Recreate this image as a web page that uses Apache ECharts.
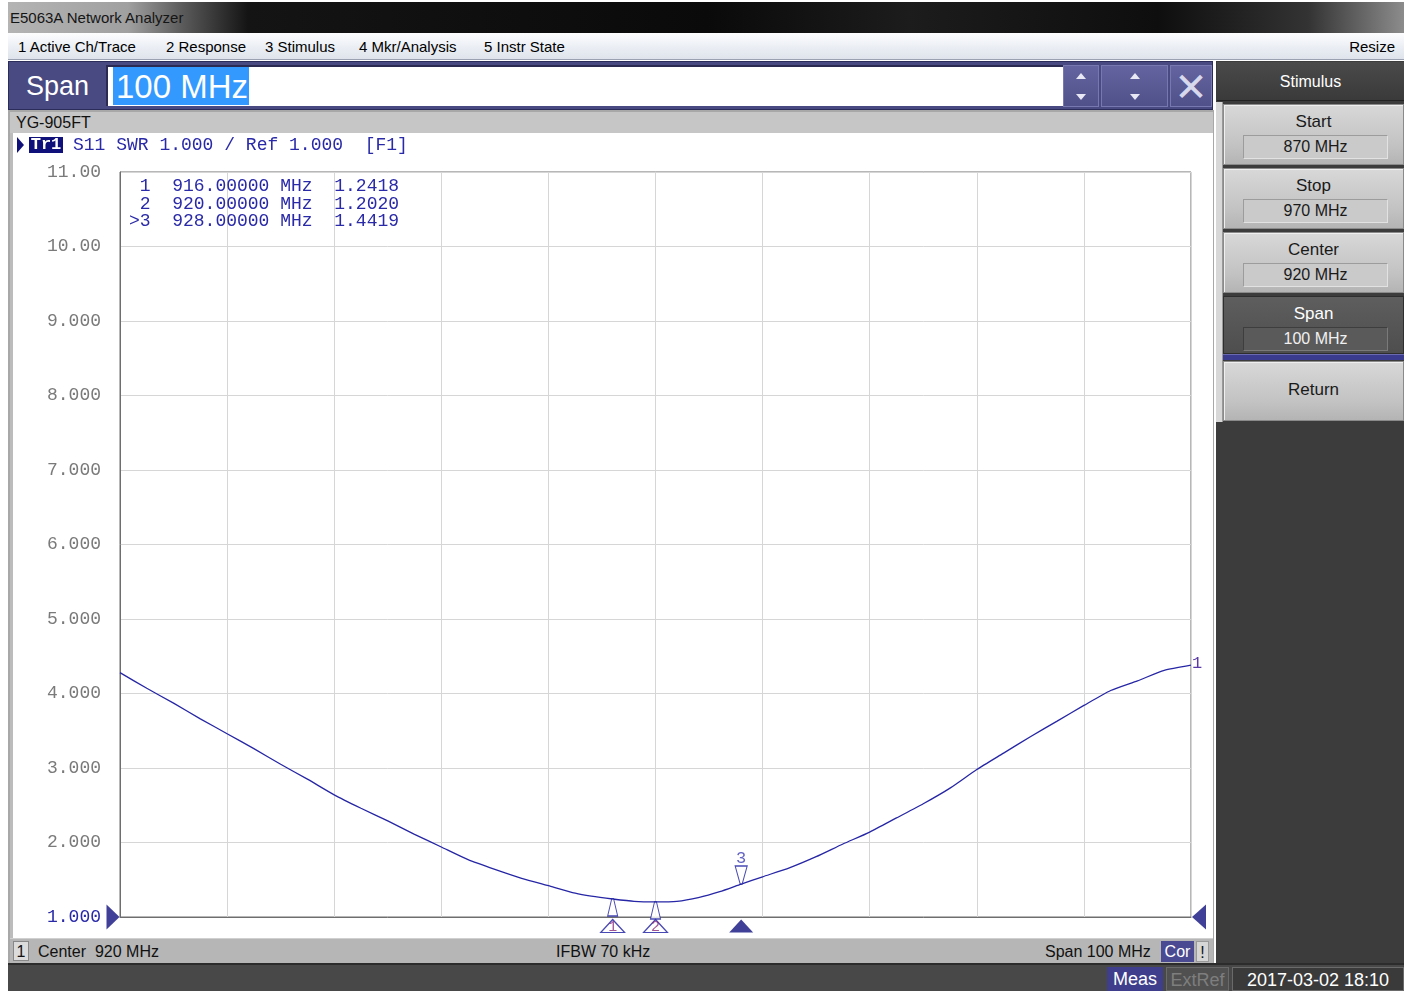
<!DOCTYPE html>
<html>
<head>
<meta charset="utf-8">
<title>E5063A Network Analyzer</title>
<script src="https://cdn.jsdelivr.net/npm/echarts@6/dist/echarts.min.js"></script>
<style>
  html, body { margin: 0; padding: 0; width: 1416px; height: 991px; overflow: hidden; background: #fff;
    font-family: "Liberation Sans", Arial, sans-serif; }
  .a { position: absolute; box-sizing: border-box; }
  #titlebar { left: 8px; top: 2px; width: 1396px; height: 31px;
    background: linear-gradient(90deg, #b4b4b4 0px, #a0a0a0 120px, #5a5a5a 175px, #141414 240px, #0a0a0a 700px,
      #1c1c1c 900px, #0e0e0e 1150px, #333 1300px, #8c8c8c 1396px); }
  #titlebar span { position: absolute; left: 2px; top: 7px; font-size: 15px; color: #151515; }
  #menubar { left: 8px; top: 33px; width: 1396px; height: 27px;
    background: linear-gradient(#fdfdfe, #e9edf3 60%, #dfe4ec); border-bottom: 1px solid #9aa2b2; }
  #menubar span { position: absolute; top: 5px; font-size: 15px; color: #000; }
  #spanbar { left: 8px; top: 61px; width: 1205px; height: 49px; background: #4a4a82;
    border: 1px solid #2c2c5a; }
  #spanlbl { left: 26px; top: 71px; font-size: 27px; color: #fff; }
  #entry { left: 106px; top: 65px; width: 957px; height: 41px; background: #fff;
    border-top: 2px solid #2a2a52; border-left: 2px solid #2a2a52; }
  #entrysel { left: 113px; top: 67px; width: 136px; height: 38px; background: #3399ff; color: #fff;
    font-size: 33px; line-height: 40px; padding-left: 3px; white-space: nowrap; overflow: hidden; }
  .btn { background: linear-gradient(#6464a0, #50508a); border: 1px solid #7878b0; }
  .arrow { position: absolute; width: 0; height: 0; border-left: 5px solid transparent; border-right: 5px solid transparent; }
  .up { border-bottom: 6px solid #e8e8f4; }
  .dn { border-top: 6px solid #e8e8f4; }
  #xbtn { left: 1170px; top: 65px; width: 42px; height: 42px; color: #d8d8ec; font-size: 40px; line-height: 42px;
    text-align: center; font-family: "DejaVu Sans", sans-serif; }

  #panel { left: 1216px; top: 61px; width: 188px; height: 902px; background: #3c3c3c; }
  #panelhead { left: 1217px; top: 62px; width: 187px; height: 39px; background: linear-gradient(#4a4a4a, #3a3a3a);
    color: #fff; font-size: 16px; text-align: center; line-height: 39px; border-bottom: 1px solid #222; }
  .sk { left: 1223px; width: 181px; background: linear-gradient(#d8d8d8, #c2c2c2 70%, #b4b4b4);
    border: 1px solid #8a8a8a; box-shadow: inset 1px 1px 0 #efefef; text-align: center; color: #1a1a1a; font-size: 17px; }
  .sk .t { position: absolute; left: 0; right: 0; top: 7px; }
  .sk .v { position: absolute; left: 19px; width: 143px; top: 30px; height: 22px; background: #cacaca;
    border-top: 1px solid #9c9c9c; border-left: 1px solid #9c9c9c; border-bottom: 1px solid #e2e2e2;
    border-right: 1px solid #e2e2e2; font-size: 16px; line-height: 21px; }
  .sk.on { background: linear-gradient(#5e5e5e, #4e4e4e); color: #fff; border-color: #2e2e2e; box-shadow: none; }
  .sk.on .v { background: #5a5a5a; border-color: #3e3e3e #7a7a7a #7a7a7a #3e3e3e; color: #f0f0f0; }
  #skstrip { left: 1216px; top: 102px; width: 7px; height: 320px; background: #d8d8d8; border-right: 1px solid #999; }

  #chwin { left: 8px; top: 110px; width: 1206px; height: 853px; background: #a8a8a8; }
  #chtitle { left: 10px; top: 112px; width: 1203px; height: 21px; background: #c6c6c6; font-size: 16px; color: #111;
    line-height: 21px; padding-left: 6px; }
  #chbody { left: 10px; top: 133px; width: 1203px; height: 805px; background: #fff; border-left: 3px solid #bcbcbc; }
  #chstat { left: 10px; top: 938px; width: 1203px; height: 25px; background: #b6b6b6; border-top: 1px solid #d0d0d0;
    font-size: 16px; color: #111; }
  #chstat span { position: absolute; top: 4px; }
  #chno { left: 3px !important; top: 2px !important; width: 16px; height: 20px; background: #dcdcdc; border: 1px solid #888;
    text-align: center; line-height: 19px; box-sizing: border-box; }
  #cor { left: 1151px !important; top: 2px !important; width: 33px; height: 21px; background: #4a4a92; color: #fff;
    text-align: center; line-height: 21px; }
  #bang { left: 1186px !important; top: 2px !important; width: 13px; height: 21px; background: #d6d6d6; color: #111;
    text-align: center; line-height: 21px; border: 1px solid #999; box-sizing: border-box; }

  #status { left: 8px; top: 963px; width: 1396px; height: 28px; background: #484848; border-top: 2px solid #2c2c2c; }
  #meas { left: 1107px; top: 967px; width: 56px; height: 24px; background: #3e3e8c; color: #fff; font-size: 18px;
    text-align: center; line-height: 24px; }
  #extref { left: 1166px; top: 967px; width: 63px; height: 24px; background: #505050; color: #7e7e7e; font-size: 18px;
    text-align: center; line-height: 24px; border: 1px solid #6a6a6a; }
  #clock { left: 1232px; top: 967px; width: 172px; height: 24px; background: #3a3a3a; color: #fff; font-size: 18px;
    text-align: center; line-height: 24px; border: 1px solid #6a6a6a; }

  .mono { font-family: "Liberation Mono", "DejaVu Sans Mono", monospace; font-size: 18px; white-space: pre; }
  #trarrow { left: 17px; top: 137px; width: 0; height: 0; border-top: 8px solid transparent; border-bottom: 8px solid transparent;
    border-left: 7px solid #10107a; }
  #trtag { left: 29px; top: 137px; width: 34px; height: 16px; background: #10107a; color: #fff; line-height: 16px;
    font-weight: bold; font-size: 17px; text-align: center; }
  #trtext { left: 73px; top: 135px; line-height: 20px; color: #2a2aa8; }
  #mktable { left: 129px; top: 178px; line-height: 17.5px; color: #2a2aa8; }
  #chart { left: 0; top: 0; width: 1416px; height: 991px; z-index: 5; }
  .top { z-index: 6; }
</style>
</head>
<body>
<div class="a" id="titlebar"><span>E5063A Network Analyzer</span></div>
<div class="a" id="menubar">
  <span style="left:10px">1 Active Ch/Trace</span>
  <span style="left:158px">2 Response</span>
  <span style="left:257px">3 Stimulus</span>
  <span style="left:351px">4 Mkr/Analysis</span>
  <span style="left:476px">5 Instr State</span>
  <span style="right:9px">Resize</span>
</div>
<div class="a" id="spanbar"></div>
<div class="a" id="spanlbl">Span</div>
<div class="a" id="entry"></div>
<div class="a" id="entrysel">100 MHz</div>
<div class="a btn" style="left:1063px;top:65px;width:36px;height:42px">
  <div class="arrow up" style="left:12px;top:7px"></div><div class="arrow dn" style="left:12px;top:28px"></div>
</div>
<div class="a btn" style="left:1101px;top:65px;width:67px;height:42px">
  <div class="arrow up" style="left:28px;top:7px"></div><div class="arrow dn" style="left:28px;top:28px"></div>
</div>
<div class="a btn" id="xbtn">✕</div>

<div class="a" id="panel"></div>
<div class="a" id="panelhead">Stimulus</div>
<div class="a" id="skstrip"></div>
<div class="a sk" style="top:104px;height:61px"><div class="t">Start</div><div class="v">870 MHz</div></div>
<div class="a sk" style="top:168px;height:61px"><div class="t">Stop</div><div class="v">970 MHz</div></div>
<div class="a sk" style="top:232px;height:61px"><div class="t">Center</div><div class="v">920 MHz</div></div>
<div class="a sk on" style="top:296px;height:58px"><div class="t">Span</div><div class="v">100 MHz</div></div>
<div class="a" style="left:1223px;top:354px;width:181px;height:6px;background:#3a3a8e;border-top:1px solid #6a6ab0"></div>
<div class="a sk" style="top:361px;height:60px;line-height:56px">Return</div>

<div class="a" id="chwin"></div>
<div class="a" id="chtitle">YG-905FT</div>
<div class="a" id="chbody"></div>
<div class="a" id="chstat">
  <span id="chno">1</span>
  <span style="left:28px">Center&nbsp; 920 MHz</span>
  <span style="left:546px">IFBW 70 kHz</span>
  <span style="left:1035px">Span 100 MHz</span>
  <span id="cor">Cor</span>
  <span id="bang">!</span>
</div>
<div class="a" id="status"></div>
<div class="a" id="meas">Meas</div>
<div class="a" id="extref">ExtRef</div>
<div class="a" id="clock">2017-03-02 18:10</div>

<div class="a top" id="trarrow"></div>
<div class="a top mono" id="trtag">Tr1</div>
<div class="a top mono" id="trtext">S11 SWR 1.000 / Ref 1.000  [F1]</div>
<div class="a top mono" id="mktable"></div>

<div class="a" id="chart"></div>

<script>
// Sweep 870–970 MHz, S11 shown as SWR
const freqMHz = [870, 872.5, 875, 877.5, 880, 882.5, 885, 887.5, 890, 892.5, 895, 897.5, 900,
  902.5, 905, 907.5, 910, 912.5, 914, 916, 918, 920, 922, 924, 926, 928, 930,
  932.5, 935, 937.5, 940, 942.5, 945, 947.5, 950, 952.5, 955, 957.5, 960, 962.5, 965, 967.5, 970];
const swr = [4.28, 4.07, 3.87, 3.66, 3.46, 3.26, 3.05, 2.85, 2.64, 2.46, 2.29, 2.11, 1.94,
  1.77, 1.64, 1.52, 1.42, 1.32, 1.28, 1.2418, 1.21, 1.2020, 1.21, 1.26, 1.34, 1.4419, 1.54,
  1.66, 1.81, 1.98, 2.14, 2.33, 2.52, 2.73, 2.98, 3.20, 3.42, 3.63, 3.84, 4.04, 4.17, 4.31, 4.38];

// Markers
const markerNo = ['1', '2', '3'];
const markerFreq = [916, 920, 928];
const markerSwr = [1.2418, 1.2020, 1.4419];
const activeMarker = 2;

// Scale
const startMHz = 870, stopMHz = 970, divMHz = 10;
const swrMin = 1, swrMax = 11, swrDiv = 1;
const refValue = 1.000;
const swrTickLabels = ['1.000', '2.000', '3.000', '4.000', '5.000', '6.000', '7.000', '8.000', '9.000', '10.00', '11.00'];

const traceColor = '#2626a6';
const mkColor = '#1c1ca0';

// Marker readout table
document.getElementById('mktable').textContent = markerNo.map((n, i) =>
  (i === activeMarker ? '>' : ' ') + n + '  ' + markerFreq[i].toFixed(5) + ' MHz  ' + markerSwr[i].toFixed(4)
).join('\n');

const chart = echarts.init(document.getElementById('chart'), null, { renderer: 'canvas' });

const tallUp = 'path://M4,0 L6,0 L10,17 L0,17 Z';
const tallDown = 'path://M0,0 L12,0 L7,18 L5,18 Z';
const axisTri = 'path://M12,0 L24,13 L0,13 Z';

const traceMarks = markerFreq.map((f, i) => {
  const active = i === activeMarker;
  return {
    value: [f, markerSwr[i]],
    symbol: active ? tallDown : tallUp,
    symbolSize: active ? [12, 18] : [10, 17],
    symbolOffset: active ? [0, -9] : [0, 8.5],
    itemStyle: { color: '#fff', borderColor: mkColor, borderWidth: 1.2 },
    label: active ? { show: true, formatter: markerNo[i], position: 'top', distance: -2,
      color: '#3a3ab4', fontFamily: 'Liberation Mono', fontSize: 17 } : { show: false }
  };
});

const axisMarks = markerFreq.map((f, i) => {
  const active = i === activeMarker;
  return {
    value: [f, swrMin],
    symbol: axisTri,
    symbolSize: [24, 13],
    symbolOffset: [0, 9],
    itemStyle: active ? { color: '#10107e' } : { color: '#fff', borderColor: mkColor, borderWidth: 1.2 },
    label: active ? { show: false } : { show: true, formatter: markerNo[i], position: 'inside',
      offset: [0, 1], color: '#8a2a7a', fontFamily: 'Liberation Mono', fontSize: 15 }
  };
});

const refMarks = [
  { value: [startMHz, refValue], symbol: 'path://M0,0 L13,12.5 L0,25 Z', symbolSize: [13, 25], symbolOffset: [-7, 0] },
  { value: [stopMHz, refValue], symbol: 'path://M13,0 L0,12.5 L13,25 Z', symbolSize: [14, 25], symbolOffset: [8, 0] }
];

const option = {
  animation: false,
  backgroundColor: 'transparent',
  grid: { left: 120, top: 172, width: 1071, height: 745, show: true, borderColor: '#6e6e6e', borderWidth: 1 },
  xAxis: {
    type: 'value', min: startMHz, max: stopMHz, interval: divMHz,
    axisLabel: { show: false }, axisTick: { show: false },
    axisLine: { show: true, lineStyle: { color: '#6e6e6e', width: 1 } },
    splitLine: { show: true, lineStyle: { color: '#d6d6d6', width: 1 } }
  },
  yAxis: {
    type: 'value', min: swrMin, max: swrMax, interval: swrDiv,
    axisTick: { show: false },
    axisLine: { show: true, lineStyle: { color: '#6e6e6e', width: 1 } },
    splitLine: { show: true, lineStyle: { color: '#d6d6d6', width: 1 } },
    axisLabel: {
      margin: 19, fontFamily: 'Liberation Mono', fontSize: 18, color: '#7a7a7a',
      formatter: v => {
        const s = swrTickLabels[Math.round((v - swrMin) / swrDiv)];
        return Math.abs(v - refValue) < 1e-9 ? '{ref|' + s + '}' : s;
      },
      rich: { ref: { color: '#2a2aa8', fontFamily: 'Liberation Mono', fontSize: 18 } }
    }
  },
  series: [
    {
      name: 'Tr1', type: 'line', data: freqMHz.map((f, i) => [f, swr[i]]),
      showSymbol: false, smooth: 0.2, z: 3,
      lineStyle: { color: traceColor, width: 1.3 },
      endLabel: { show: true, formatter: '1', color: '#5a3aa8', fontFamily: 'Liberation Mono', fontSize: 17, distance: 1, offset: [0, -2] }
    },
    { name: 'markers', type: 'scatter', data: traceMarks, clip: false, z: 4 },
    { name: 'stimulus markers', type: 'scatter', data: axisMarks, clip: false, z: 4 },
    { name: 'reference', type: 'scatter', data: refMarks, clip: false, z: 4, itemStyle: { color: '#10107e' } }
  ]
};
chart.setOption(option);
</script>
</body>
</html>
